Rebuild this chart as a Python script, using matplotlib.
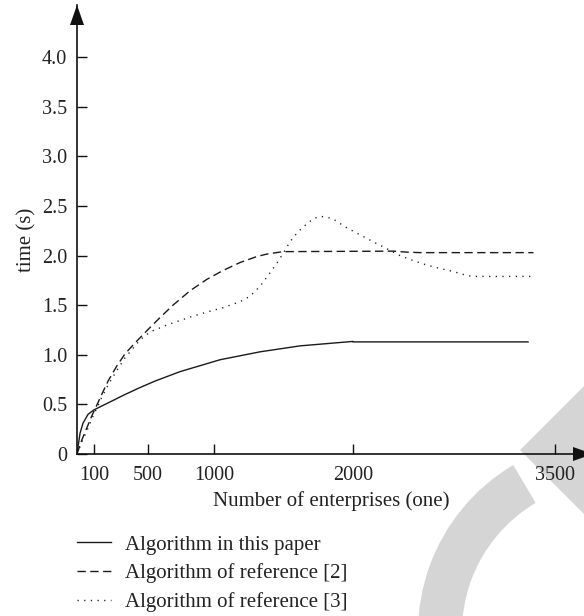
import numpy as np
import matplotlib
matplotlib.use("Agg")
import matplotlib.pyplot as plt
from matplotlib.patches import Polygon, Wedge

plt.rcParams['font.family'] = ['Liberation Serif', 'DejaVu Serif']

# ---------------- data ----------------
x_tick_values = [100, 500, 1000, 2000, 3500]
x_tick_labels = ["100", "500", "1000", "2000", "3500"]
y_tick_values = [0, 0.5, 1.0, 1.5, 2.0, 2.5, 3.0, 3.5, 4.0]
y_tick_labels = ["0", "0.5", "1.0", "1.5", "2.0", "2.5", "3.0", "3.5", "4.0"]

x_paper = [0, 18, 35, 65, 100, 204, 330, 441, 553, 742, 1043, 1331, 1619, 2000, 2000, 3300]
y_paper = [0, 0.21, 0.31, 0.40, 0.445, 0.515, 0.60, 0.67, 0.735, 0.83, 0.95, 1.03, 1.09, 1.135, 1.13, 1.13]

x_ref2 = [0, 28, 57, 86, 120, 157, 206, 268, 330, 404, 515, 591, 689, 818, 945, 1065,
          1187, 1307, 1379, 1496, 2297, 2400, 2498, 3340]
y_ref2 = [0, 0.14, 0.26, 0.38, 0.49, 0.60, 0.74, 0.885, 1.01, 1.12, 1.275, 1.375, 1.50, 1.645,
          1.76, 1.85, 1.93, 1.99, 2.015, 2.04, 2.045, 2.035, 2.03, 2.03]

x_ref3 = [0, 28, 57, 86, 120, 157, 206, 268, 330, 404, 441, 515, 642, 818, 945, 1065, 1187,
          1259, 1331, 1389, 1451, 1496, 1547, 1604, 1676, 1720, 1763, 1806, 1856, 1955, 2052,
          2149, 2250, 2349, 2446, 2547, 2646, 2743, 2844, 2891, 3337]
y_ref3 = [0, 0.12, 0.23, 0.35, 0.46, 0.57, 0.70, 0.84, 0.97, 1.09, 1.15, 1.23, 1.30, 1.38,
          1.43, 1.475, 1.535, 1.59, 1.69, 1.80, 1.92, 2.02, 2.14, 2.24, 2.33, 2.375, 2.395,
          2.39, 2.37, 2.28, 2.21, 2.14, 2.07, 2.0, 1.95, 1.905, 1.87, 1.84, 1.80, 1.79, 1.79]

series_labels = ["Algorithm in this paper", "Algorithm of reference [2]", "Algorithm of reference [3]"]

# ---------------- non-uniform x axis scale ----------------
_val_bp = np.array([0, 100, 500, 1000, 2000, 3500], dtype=float)
_pos_bp = np.array([0, 17, 71, 137, 276, 478], dtype=float)


def _interp_ext(x, xp, fp):
    x = np.asarray(x, dtype=float)
    y = np.interp(x, xp, fp)
    lo = x < xp[0]
    hi = x > xp[-1]
    s0 = (fp[1] - fp[0]) / (xp[1] - xp[0])
    s1 = (fp[-1] - fp[-2]) / (xp[-1] - xp[-2])
    y = np.where(lo, fp[0] + (x - xp[0]) * s0, y)
    y = np.where(hi, fp[-1] + (x - xp[-1]) * s1, y)
    return y


def fwd(x):
    return _interp_ext(x, _val_bp, _pos_bp)


def inv(p):
    return _interp_ext(p, _pos_bp, _val_bp)


# ---------------- figure ----------------
W, H = 584, 616
fig = plt.figure(figsize=(W / 100, H / 100), dpi=100)

# decorative grey watermark
grey = "#d5d5d5"
fig.patches.append(Wedge((6.12, -0.16), 1.94, 120.6, 200, width=0.44,
                         transform=fig.dpi_scale_trans, facecolor=grey,
                         edgecolor="none", zorder=-1))
fig.patches.append(Polygon([(5.20, 1.66), (6.05, 2.51), (6.05, 0.81)], closed=True,
                           transform=fig.dpi_scale_trans, facecolor=grey,
                           edgecolor="none", zorder=-1))

ax_l, ax_b, ax_r, ax_t = 77, 454, 584, 5
ax = fig.add_axes([ax_l / W, 1 - ax_b / H, (ax_r - ax_l) / W, (ax_b - ax_t) / H])
ax.set_facecolor("none")
ax.set_xscale("function", functions=(fwd, inv))
ax.set_xlim(0, float(inv(ax_r - ax_l)))
ax.set_ylim(0, (ax_b - ax_t) / 99.2)

lw = 1.0
ax.plot(x_paper, y_paper, color="#1a1a1a", lw=lw, linestyle="-", label=series_labels[0])
ax.plot(x_ref2, y_ref2, color="#1a1a1a", lw=lw, linestyle=(0, (6.0, 3.2)), label=series_labels[1])
ax.plot(x_ref3, y_ref3, color="#1a1a1a", lw=lw, linestyle=(0, (0.9, 3.9)), label=series_labels[2])

for s in ["top", "right"]:
    ax.spines[s].set_visible(False)
for s in ["left", "bottom"]:
    ax.spines[s].set_linewidth(1.2)
    ax.spines[s].set_color("#111111")

ax.set_xticks(x_tick_values)
ax.set_xticklabels(x_tick_labels)
ax.set_yticks(y_tick_values)
ax.set_yticklabels(y_tick_labels)
ax.xaxis.set_minor_locator(matplotlib.ticker.NullLocator())
ax.tick_params(axis="both", direction="in", length=7.5, width=1.0, color="#111111",
               labelsize=14.5, labelcolor="#222222")
ax.tick_params(axis="x", pad=8.5)
ax.tick_params(axis="y", pad=7)

# arrow heads
hw_x = 7 / (ax_r - ax_l)
ah_y = 20 / (ax_b - ax_t)
ax.add_patch(Polygon([(0, 1), (-hw_x, 1 - ah_y), (hw_x, 1 - ah_y)], closed=True,
                     transform=ax.transAxes, facecolor="#111111", edgecolor="none",
                     clip_on=False, zorder=5))
hw_y = 7 / (ax_b - ax_t)
x0 = (573 - ax_l) / (ax_r - ax_l)
x1 = (593 - ax_l) / (ax_r - ax_l)
ax.add_patch(Polygon([(x1, 0), (x0, hw_y), (x0, -hw_y)], closed=True,
                     transform=ax.transAxes, facecolor="#111111", edgecolor="none",
                     clip_on=False, zorder=5))

fig.text(331 / W, 1 - 501 / H, "Number of enterprises (one)", ha="center", va="center",
         fontsize=15, color="#222222")
fig.text(27 / W, 1 - 240 / H, "time (s)", ha="center", va="center", rotation=90,
         fontsize=15, color="#222222")

handles, labels = ax.get_legend_handles_labels()
fig.legend(handles, labels, loc="upper left", bbox_to_anchor=(77 / W, 1 - 535 / H),
           frameon=False, fontsize=15, handlelength=1.63, handletextpad=0.67,
           labelspacing=0.42, borderpad=0, borderaxespad=0, labelcolor="#222222")

fig.savefig("out.png", dpi=100)
